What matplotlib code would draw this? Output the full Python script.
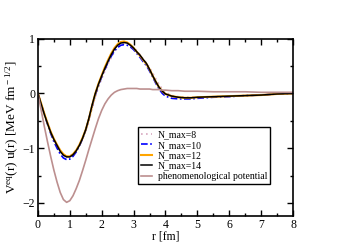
import matplotlib
matplotlib.use('Agg')
import matplotlib.pyplot as plt
from matplotlib.ticker import MultipleLocator

plt.rcParams['font.family'] = ['Liberation Serif', 'DejaVu Serif']
plt.rcParams['mathtext.fontset'] = 'custom'
plt.rcParams['mathtext.rm'] = 'Liberation Serif'
plt.rcParams['mathtext.it'] = 'Liberation Serif:italic'

# r grid [fm]
r = [0.0, 0.1, 0.2, 0.3, 0.4, 0.5, 0.6, 0.7, 0.8, 0.9,
     1.0, 1.1, 1.2, 1.3, 1.4, 1.5, 1.6, 1.7, 1.8, 1.9,
     2.0, 2.1, 2.2, 2.3, 2.4, 2.5, 2.6, 2.7, 2.8, 2.9,
     3.0, 3.1, 3.2, 3.3, 3.4, 3.5, 3.6, 3.7, 3.8, 3.9,
     4.0, 4.2, 4.4, 4.6, 4.8, 5.0, 5.5, 6.0, 6.5, 7.0, 7.5, 8.0]

v_n8 = [0.00, -0.18, -0.36, -0.53, -0.69, -0.83, -0.95, -1.05, -1.12, -1.15,
        -1.15, -1.11, -1.04, -0.95, -0.83, -0.68, -0.49, -0.27, -0.06, 0.12,
        0.27, 0.41, 0.54, 0.66, 0.76, 0.84, 0.89, 0.91, 0.91, 0.89,
        0.84, 0.78, 0.71, 0.63, 0.56, 0.47, 0.37, 0.26, 0.16, 0.08,
        0.02, -0.04, -0.06, -0.07, -0.07, -0.07, -0.06, -0.05, -0.04, -0.03, -0.01, 0.00]
v_n10 = [0.00, -0.19, -0.38, -0.56, -0.73, -0.88, -1.00, -1.11, -1.18, -1.21,
         -1.20, -1.15, -1.07, -0.96, -0.83, -0.67, -0.47, -0.24, -0.03, 0.15,
         0.30, 0.44, 0.57, 0.68, 0.78, 0.84, 0.88, 0.89, 0.88, 0.85,
         0.80, 0.73, 0.66, 0.58, 0.51, 0.41, 0.30, 0.18, 0.08, 0.00,
         -0.05, -0.09, -0.10, -0.10, -0.10, -0.09, -0.07, -0.06, -0.04, -0.03, -0.01, 0.00]
v_n12 = [0.00, -0.18, -0.37, -0.54, -0.70, -0.83, -0.94, -1.04, -1.11, -1.15,
         -1.15, -1.11, -1.04, -0.94, -0.81, -0.66, -0.46, -0.22, 0.00, 0.18,
         0.33, 0.48, 0.61, 0.73, 0.83, 0.90, 0.94, 0.95, 0.93, 0.89,
         0.83, 0.76, 0.69, 0.61, 0.54, 0.44, 0.32, 0.21, 0.11, 0.04,
         -0.01, -0.05, -0.07, -0.08, -0.08, -0.07, -0.06, -0.05, -0.04, -0.03, -0.01, 0.00]
v_n14 = [0.00, -0.19, -0.38, -0.55, -0.71, -0.84, -0.95, -1.06, -1.13, -1.16,
         -1.16, -1.12, -1.05, -0.95, -0.82, -0.66, -0.45, -0.21, 0.00, 0.17,
         0.32, 0.46, 0.59, 0.71, 0.81, 0.88, 0.92, 0.93, 0.92, 0.88,
         0.83, 0.76, 0.70, 0.62, 0.55, 0.44, 0.32, 0.21, 0.11, 0.04,
         -0.01, -0.05, -0.07, -0.08, -0.08, -0.07, -0.06, -0.05, -0.04, -0.03, -0.01, 0.00]
v_pheno = [0.00, -0.30, -0.60, -0.88, -1.15, -1.40, -1.62, -1.81, -1.94, -1.99,
           -1.96, -1.87, -1.74, -1.59, -1.41, -1.22, -1.02, -0.83, -0.64, -0.46,
           -0.31, -0.19, -0.10, -0.03, 0.02, 0.05, 0.07, 0.08, 0.09, 0.09,
           0.09, 0.09, 0.08, 0.08, 0.08, 0.08, 0.07, 0.07, 0.07, 0.06,
           0.06, 0.05, 0.05, 0.04, 0.04, 0.04, 0.03, 0.03, 0.03, 0.02, 0.02, 0.02]

fig = plt.figure(figsize=(3.51, 2.48), dpi=100)
ax = fig.add_axes([0.108, 0.129, 0.727, 0.715])

ax.plot(r, v_n8, color='#d8a8c0', ls=(0, (1, 2)), lw=1.2, label='N_max=8')
ax.plot(r, v_n10, color='blue', ls=(0, (4, 1.5, 1, 1.5)), lw=1.2, label='N_max=10')
ax.plot(r, v_n12, color='orange', lw=1.5, label='N_max=12')
ax.plot(r, v_n14, color='black', lw=1.1, label='N_max=14')
ax.plot(r, v_pheno, color='#bc8f8f', lw=1.2, label='phenomenological potential')

ax.set_xlim(0, 8)
ax.set_ylim(-2.24, 1)
ax.xaxis.set_major_locator(MultipleLocator(1))
ax.xaxis.set_minor_locator(MultipleLocator(0.5))
ax.yaxis.set_major_locator(MultipleLocator(1))
ax.yaxis.set_minor_locator(MultipleLocator(0.5))
ax.tick_params(which='both', direction='in', top=True, right=True, labelsize=8.5, pad=2)
ax.tick_params(which='major', length=4, width=1)
ax.tick_params(which='minor', length=2, width=1)
for s in ax.spines.values():
    s.set_linewidth(1.2)

ax.set_xlabel('r [fm]', fontsize=8.5, labelpad=0)
ax.set_ylabel(r'V$^{\rm eq}$(r) u(r) [MeV fm$^{\rm -1/2}$]', fontsize=9.5, labelpad=1)

leg = ax.legend(loc='lower left', bbox_to_anchor=(0.393, 0.18), borderaxespad=0,
                fontsize=7, handlelength=1.1, handletextpad=0.6, labelspacing=0.15,
                borderpad=0.3, fancybox=False, framealpha=1, edgecolor='black')
leg.get_frame().set_linewidth(1.0)

fig.savefig('out.png', dpi=100)
